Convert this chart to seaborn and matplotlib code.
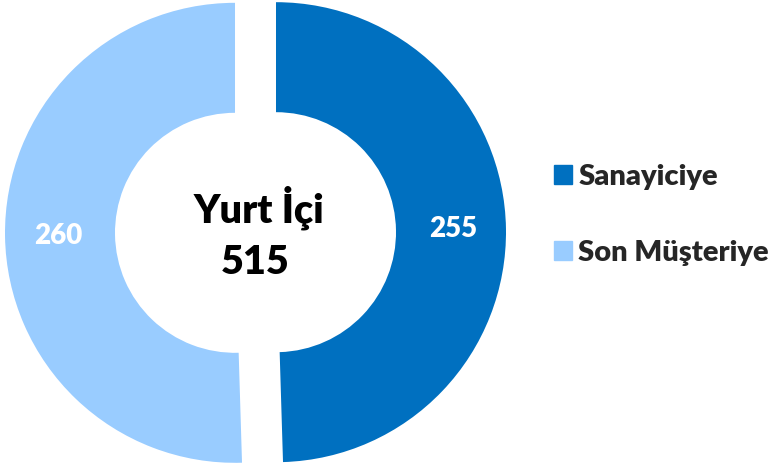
import matplotlib
matplotlib.use("Agg")
import matplotlib.pyplot as plt
import matplotlib.patches as mpatches
import seaborn as sns

# Data
categories = ["Sanayiciye", "Son Müşteriye"]
values = [255, 260]
center_title = "Yurt İçi"
colors = ["#0070C0", "#99CCFF"]

sns.set_theme(style="white")
plt.rcParams['font.family'] = ['Lato', 'DejaVu Sans']

W, H = 772, 469
fig = plt.figure(figsize=(W / 100, H / 100), dpi=100)
ax = fig.add_axes([0, 0, 1, 1])

# pixel-like data coordinates (y up, origin at top-left)
cx, cy = 255.5, -232.5
R, ring = 230, 110
total = sum(values)

wedges, _, autotexts = ax.pie(
    values, colors=colors, radius=R, center=(cx, cy),
    startangle=90, counterclock=False, explode=[20.5, 20.5],
    wedgeprops=dict(width=ring, linewidth=0),
    autopct=lambda p: f"{p * total / 100:.0f}", pctdistance=0.77,
    textprops=dict(color="white", fontsize=20, fontweight="heavy"),
)

ax.text(cx + 3, cy + 10, center_title, ha="center", va="baseline",
        fontsize=28.5, fontweight="heavy", color="black")
ax.text(cx, cy - 41, f"{total}", ha="center", va="baseline",
        fontsize=28.5, fontweight="heavy", color="black")

ax.set_xlim(0, W)
ax.set_ylim(-H, 0)
ax.set_aspect("equal")
ax.axis("off")

handles = [mpatches.Patch(color=c, label=l) for c, l in zip(colors, categories)]
fig.legend(handles=handles, loc="center left",
           bbox_to_anchor=(554 / W, 1 - 215 / H), frameon=False,
           borderpad=0, borderaxespad=0, handlelength=0.63, handleheight=0.63,
           handletextpad=0.2, labelspacing=1.72,
           prop=dict(family=['Lato', 'DejaVu Sans'], size=21, weight="heavy"))

fig.savefig("out.png", dpi=100, facecolor="white")
